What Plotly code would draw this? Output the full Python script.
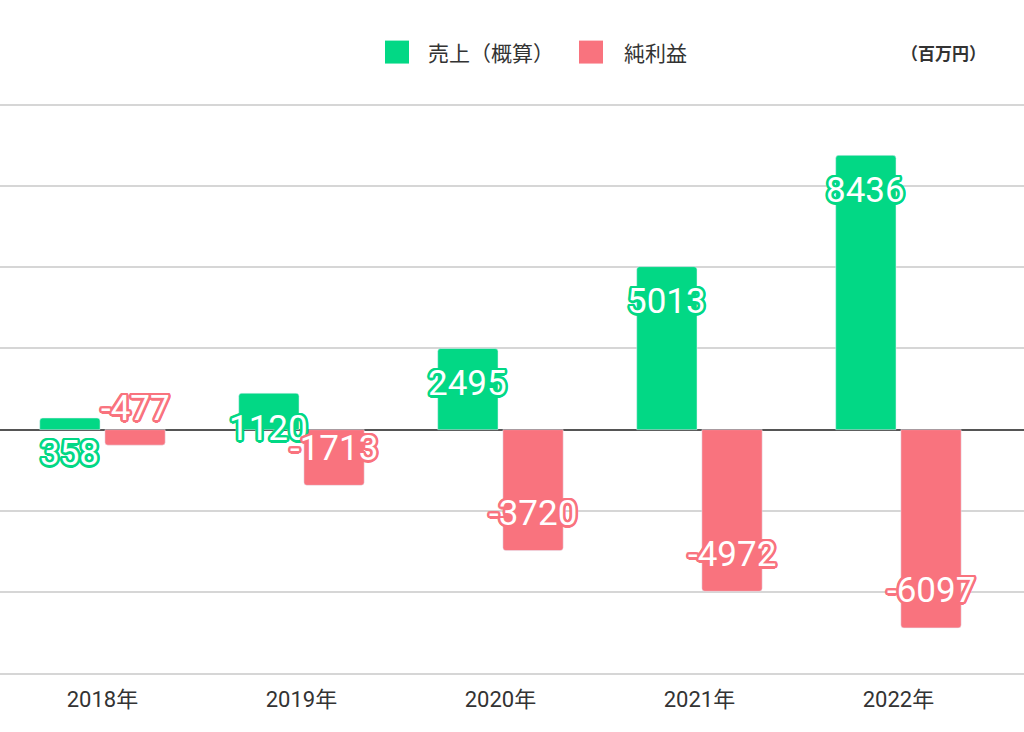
import plotly.graph_objects as go
import math

years = ["2018年", "2019年", "2020年", "2021年", "2022年"]
sales = [358, 1120, 2495, 5013, 8436]
profit = [-477, -1713, -3720, -4972, -6097]
series_names = ["売上（概算）", "純利益"]
unit_label = "（百万円）"

GREEN = "#02D885"
RED = "#F9737E"

W, H = 1024, 732
Y_MIN, Y_MAX = -7700, 10200
T, B, L, R = 97.5, 51.5, 0, 0
PH = H - T - B

BARGAP = 0.345
BARGROUPGAP = 0.075

xs = list(range(len(years)))


def outline(c, w=2.5):
    parts = []
    for k in range(16):
        a = 2 * math.pi * k / 16
        parts.append(f"{w*math.cos(a):.2f}px {w*math.sin(a):.2f}px 0 {c}")
    return ", ".join(parts)


fig = go.Figure()
fig.add_trace(go.Bar(x=xs, y=sales, name=series_names[0], marker=dict(color=GREEN, cornerradius=3),
                     showlegend=False, hoverinfo="skip"))
fig.add_trace(go.Bar(x=xs, y=profit, name=series_names[1], marker=dict(color=RED, cornerradius=3),
                     showlegend=False, hoverinfo="skip"))

off = (1 - BARGAP) / 4
annotations = []
for i, v in enumerate(sales):
    annotations.append(dict(x=i - off, y=v, xref="x", yref="y", text=str(v), showarrow=False,
                            yanchor="middle", xanchor="center", yshift=-35,
                            font=dict(family="Roboto", size=35, color="white", shadow=outline(GREEN))))
for i, v in enumerate(profit):
    annotations.append(dict(x=i + off, y=v, xref="x", yref="y", text=str(v), showarrow=False,
                            yanchor="middle", xanchor="center", yshift=37,
                            font=dict(family="Roboto", size=35, color="white", shadow=outline(RED))))


def px2paper_x(x):
    return (x - L) / (W - L - R)


def px2paper_y(y):
    return (H - B - y) / PH


shapes = []
legend_items = [(385, 409, 426, series_names[0], GREEN), (579, 603, 622, series_names[1], RED)]
ly0, ly1, lyc = 40, 63, 51.5
for x0, x1, tx, name, col in legend_items:
    shapes.append(dict(type="rect", xref="paper", yref="paper",
                       x0=px2paper_x(x0), x1=px2paper_x(x1), y0=px2paper_y(ly1), y1=px2paper_y(ly0),
                       fillcolor=col, line=dict(width=0), layer="above"))
    annotations.append(dict(x=px2paper_x(tx), y=px2paper_y(lyc), xref="paper", yref="paper",
                            text=name, showarrow=False, xanchor="left", yanchor="middle",
                            font=dict(family="Noto Sans CJK JP", size=21, color="#333333")))
annotations.append(dict(x=px2paper_x(988), y=px2paper_y(lyc), xref="paper", yref="paper",
                        text=f"<b>{unit_label}</b>", showarrow=False, xanchor="right", yanchor="middle",
                        font=dict(family="Noto Sans CJK JP", size=17, color="#333333")))

fig.update_layout(
    width=W, height=H,
    margin=dict(t=T, b=B, l=L, r=R, pad=0),
    paper_bgcolor="white", plot_bgcolor="white",
    barmode="group", bargap=BARGAP, bargroupgap=BARGROUPGAP,
    showlegend=False,
    annotations=annotations, shapes=shapes,
    xaxis=dict(range=[-0.515, 4.631], tickvals=xs, ticktext=years, showgrid=False, zeroline=False,
               tickfont=dict(family="Roboto, Noto Sans CJK JP", size=22, color="#333333"),
               ticks="", ticklabelstandoff=4),
    yaxis=dict(range=[Y_MIN, Y_MAX], dtick=2500, tick0=0, showticklabels=False, showgrid=True,
               gridcolor="#D6D6D6", gridwidth=1.5, zeroline=True, zerolinecolor="#555555",
               zerolinewidth=1.5),
)

fig.write_html("out.html", config={"displayModeBar": False},
               post_script="document.body.style.margin='0';")
